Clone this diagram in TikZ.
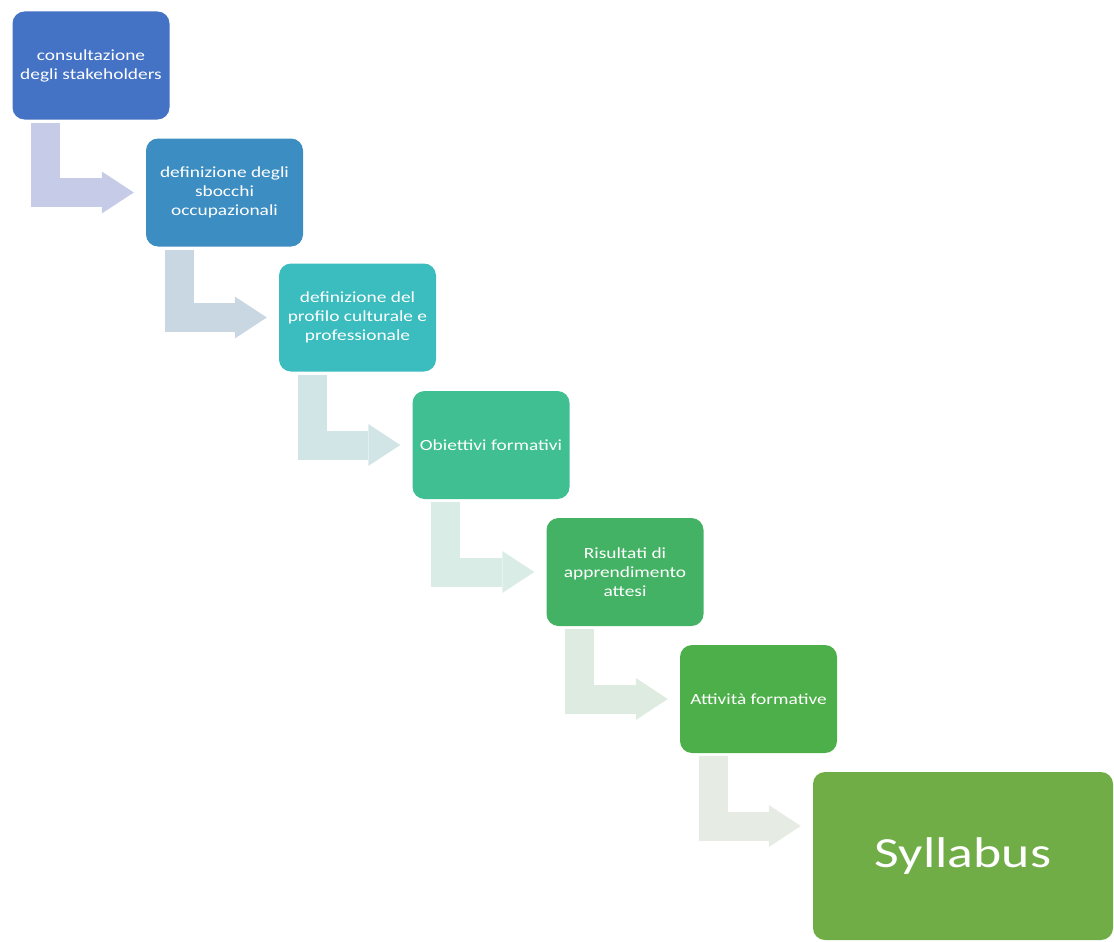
\documentclass[tikz,border=0pt]{standalone}
\usepackage{fontspec}
\setmainfont{Carlito}[FakeStretch=1.25]
\usetikzlibrary{arrows.meta,calc,positioning}
\definecolor{stepA}{HTML}{4472C4}
\definecolor{stepB}{HTML}{3C8DC2}
\definecolor{stepC}{HTML}{3BBCBE}
\definecolor{stepD}{HTML}{3FBF92}
\definecolor{stepE}{HTML}{44B264}
\definecolor{stepF}{HTML}{4DAF4A}
\definecolor{stepG}{HTML}{70AD47}
\definecolor{flowA}{HTML}{C6CCE8}
\definecolor{flowB}{HTML}{C9D7E3}
\definecolor{flowC}{HTML}{D2E5E6}
\definecolor{flowD}{HTML}{D9EDE6}
\definecolor{flowE}{HTML}{DEEBE1}
\definecolor{flowF}{HTML}{E6ECE4}

\begin{document}
\begin{tikzpicture}[x=1pt, y=-1pt]
		\tikzset{stepbox/.style={rounded corners=12pt, minimum width=157pt, minimum height=108pt, inner sep=0pt, align=center, text=white, font=\fontsize{15.5}{19}\selectfont},
			flow/.style={line width=29pt, -{Triangle[length=32pt, width=42pt, line width=0pt]}}}
		\useasboundingbox (0,0) rectangle (1114,942);
		% process steps
		\node [stepbox, fill=stepA] (b1) at (91,65.5) {consultazione\\degli stakeholders};
		\node [stepbox, fill=stepB] (b2) at (224.5,192.5) {definizione degli\\sbocchi\\occupazionali};
		\node [stepbox, fill=stepC] (b3) at (357.5,317.5) {definizione del\\profilo culturale e\\professionale};
		\node [stepbox, fill=stepD] (b4) at (491,445) {Obiettivi formativi};
		\node [stepbox, fill=stepE] (b5) at (625,572) {Risultati di\\apprendimento\\attesi};
		\node [stepbox, fill=stepF] (b6) at (758.5,699) {Attivit\`a formative};
		\node [stepbox, fill=stepG, minimum width=300pt, minimum height=168pt, font=\fontsize{43}{50}\selectfont] (b7) at (963,856) {Syllabus};
		% bent arrows
		\draw [flow, draw=flowA] ([shift={(33.5,3)}]b1.south west) |- ([xshift=-12pt]b2.west);
		\draw [flow, draw=flowB] ([shift={(33.5,3)}]b2.south west) |- ([xshift=-12pt]b3.west);
		\draw [flow, draw=flowC] ([shift={(33.5,3)}]b3.south west) |- ([xshift=-12pt]b4.west);
		\draw [flow, draw=flowD] ([shift={(33.5,3)}]b4.south west) |- ([xshift=-12pt]b5.west);
		\draw [flow, draw=flowE] ([shift={(33.5,3)}]b5.south west) |- ([xshift=-12pt]b6.west);
		\draw [flow, draw=flowF] ([shift={(33.5,3)}]b6.south west) |- ([shift={(-12,-30)}]b7.west);
\end{tikzpicture}
\end{document}
